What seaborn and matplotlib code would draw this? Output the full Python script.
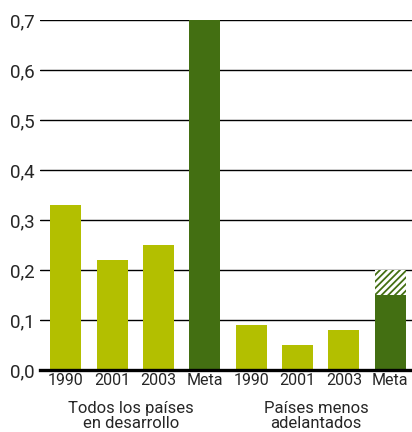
import matplotlib
matplotlib.use("Agg")
import matplotlib.pyplot as plt
import matplotlib.transforms as mtransforms
import seaborn as sns
import pandas as pd

# ---- data ----
group_labels = ["Todos los países\nen desarrollo", "Países menos\nadelantados"]
years = ["1990", "2001", "2003", "Meta"]
values_todos = [0.33, 0.22, 0.25, 0.70]
values_pma = [0.09, 0.05, 0.08, 0.15]
meta_pma_upper = 0.20          # target range for PMA: 0.15 - 0.20
ytick_values = [0.0, 0.1, 0.2, 0.3, 0.4, 0.5, 0.6, 0.7]
ytick_labels = ["0,0", "0,1", "0,2", "0,3", "0,4", "0,5", "0,6", "0,7"]

light_green = "#b3bf00"
dark_green = "#436f12"

keys = [f"g{g}_{y}" for g in range(2) for y in years]
df = pd.DataFrame({
    "key": keys,
    "value": values_todos + values_pma,
    "kind": ["meta" if y == "Meta" else "obs" for _ in range(2) for y in years],
})
df_range = pd.DataFrame({"key": [keys[-1]], "value": [meta_pma_upper]})

sns.set_style("white")
plt.rcParams["font.family"] = ["Roboto", "DejaVu Sans"]
plt.rcParams["hatch.linewidth"] = 2.1

fig = plt.figure(figsize=(4.12, 4.32), dpi=100)
ax = fig.add_axes([40 / 412, 62 / 432, 372 / 412, 350 / 432])

bar_w = 0.67
# hatched target range (upper part), drawn underneath
sns.barplot(data=df_range, x="key", y="value", order=keys, color=dark_green,
            saturation=1, width=bar_w, hatch="/////", edgecolor="white",
            linewidth=0, ax=ax, zorder=2)
# main bars
sns.barplot(data=df, x="key", y="value", order=keys, hue="kind",
            palette={"obs": light_green, "meta": dark_green}, dodge=False,
            saturation=1, width=bar_w, linewidth=0, legend=False, ax=ax,
            zorder=3)

ax.set_xlim(-0.56, 7.47)
ax.set_ylim(0, 0.7)
ax.set_yticks(ytick_values)
ax.set_yticklabels(ytick_labels, fontsize=13.5)
ax.set_xticks(range(len(keys)))
ax.set_xticklabels(years * 2, fontsize=11.5)
ax.tick_params(axis="both", length=0)
ax.tick_params(axis="y", pad=4)
ax.tick_params(axis="x", pad=2.5)
ax.set_xlabel("")
ax.set_ylabel("")

ax.grid(False)
for yv in ytick_values[1:]:
    ax.axhline(yv, color="black", lw=1.0, zorder=1)

for s in ["top", "right", "left"]:
    ax.spines[s].set_visible(False)
ax.spines["bottom"].set_color("black")
ax.spines["bottom"].set_linewidth(2.4)
ax.spines["bottom"].set_zorder(5)

trans = mtransforms.blended_transform_factory(ax.transData, ax.transAxes)
ax.text(1.4, -0.088, group_labels[0], transform=trans, ha="center", va="top",
        fontsize=12, linespacing=1.05)
ax.text(5.4, -0.088, group_labels[1], transform=trans, ha="center", va="top",
        fontsize=12, linespacing=1.05)

fig.savefig("out.png", dpi=100)
